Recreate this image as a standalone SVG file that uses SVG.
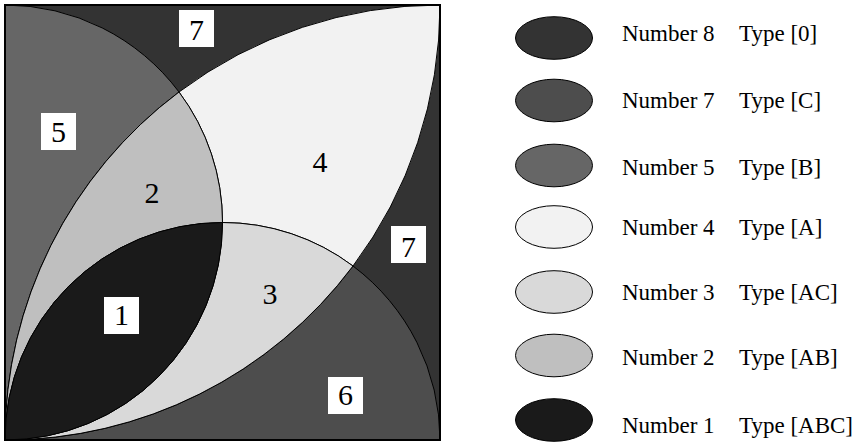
<svg xmlns="http://www.w3.org/2000/svg" width="861" height="443" viewBox="0 0 861 443">
<style>
.rg{stroke:#000;stroke-width:1;stroke-linejoin:round}
.num{font-family:"Liberation Serif","Times New Roman",serif;font-size:30px;fill:#000;text-anchor:middle}
.box{fill:#fff;stroke:none}
.lg{font-family:"Liberation Serif","Times New Roman",serif;font-size:23px;fill:#000}
.el{stroke:#000;stroke-width:1}
</style>
<rect width="861" height="443" fill="#fff"/>
<g id="background"><rect x="5" y="5" width="435" height="435" fill="#333333"/></g>
<g id="region5"><path class="rg" fill="#666666" d="M5,440 L5,5 A217.5,217.5 0 0 1 179,92 A435,435 0 0 0 5,440 Z"/></g>
<g id="region6"><path class="rg" fill="#4d4d4d" d="M440,440 L5,440 A435,435 0 0 0 353,266 A217.5,217.5 0 0 1 440,440 Z"/></g>
<g id="region4"><path class="rg" fill="#f2f2f2" d="M179,92 A435,435 0 0 1 440,5 A435,435 0 0 1 353,266 A217.5,217.5 0 0 0 222.5,222.5 A217.5,217.5 0 0 0 179,92 Z"/></g>
<g id="region2"><path class="rg" fill="#bfbfbf" d="M179,92 A217.5,217.5 0 0 1 222.5,222.5 A217.5,217.5 0 0 0 5,440 A435,435 0 0 1 179,92 Z"/></g>
<g id="region3"><path class="rg" fill="#d9d9d9" d="M222.5,222.5 A217.5,217.5 0 0 1 353,266 A435,435 0 0 1 5,440 A217.5,217.5 0 0 0 222.5,222.5 Z"/></g>
<g id="region1"><path class="rg" fill="#1a1a1a" d="M5,440 A217.5,217.5 0 0 1 222.5,222.5 A217.5,217.5 0 0 1 5,440 Z"/></g>
<g id="frame"><rect x="5" y="5" width="435" height="435" fill="none" stroke="#000" stroke-width="2"/></g>
<g id="labels">
<rect class="box" x="179" y="10" width="35" height="37"/><text class="num" x="196.5" y="40">7</text>
<rect class="box" x="41" y="113" width="35" height="37"/><text class="num" x="58.5" y="141.5">5</text>
<rect class="box" x="391" y="226" width="35" height="37"/><text class="num" x="408.5" y="256.5">7</text>
<rect class="box" x="104" y="297" width="35" height="37"/><text class="num" x="121.5" y="325">1</text>
<rect class="box" x="328" y="377" width="35" height="37"/><text class="num" x="345.5" y="405">6</text>
<text class="num" x="152" y="203">2</text>
<text class="num" x="320" y="171.5">4</text>
<text class="num" x="270" y="304">3</text>
</g>
<g id="legend">
<g id="legend8"><ellipse class="el" cx="554" cy="38" rx="38.5" ry="21.3" fill="#333333"/><text class="lg" x="622" y="40.6">Number 8</text><text class="lg" x="739" y="40.6">Type [0]</text></g>
<g id="legend7"><ellipse class="el" cx="554" cy="100.5" rx="38.5" ry="21.3" fill="#4d4d4d"/><text class="lg" x="622" y="108.3">Number 7</text><text class="lg" x="739" y="108.3">Type [C]</text></g>
<g id="legend5"><ellipse class="el" cx="554" cy="165.5" rx="38.5" ry="21.3" fill="#666666"/><text class="lg" x="622" y="175">Number 5</text><text class="lg" x="739" y="175">Type [B]</text></g>
<g id="legend4"><ellipse class="el" cx="554" cy="227" rx="38.5" ry="21.3" fill="#f2f2f2"/><text class="lg" x="622" y="235">Number 4</text><text class="lg" x="739" y="235">Type [A]</text></g>
<g id="legend3"><ellipse class="el" cx="554" cy="292" rx="38.5" ry="21.3" fill="#d9d9d9"/><text class="lg" x="622" y="300">Number 3</text><text class="lg" x="739" y="300">Type [AC]</text></g>
<g id="legend2"><ellipse class="el" cx="554" cy="355.5" rx="38.5" ry="21.3" fill="#bfbfbf"/><text class="lg" x="622" y="365">Number 2</text><text class="lg" x="739" y="365">Type [AB]</text></g>
<g id="legend1"><ellipse class="el" cx="554" cy="420" rx="38.5" ry="21.3" fill="#1a1a1a"/><text class="lg" x="622" y="433.3">Number 1</text><text class="lg" x="739" y="433.3">Type [ABC]</text></g>
</g>
</svg>
